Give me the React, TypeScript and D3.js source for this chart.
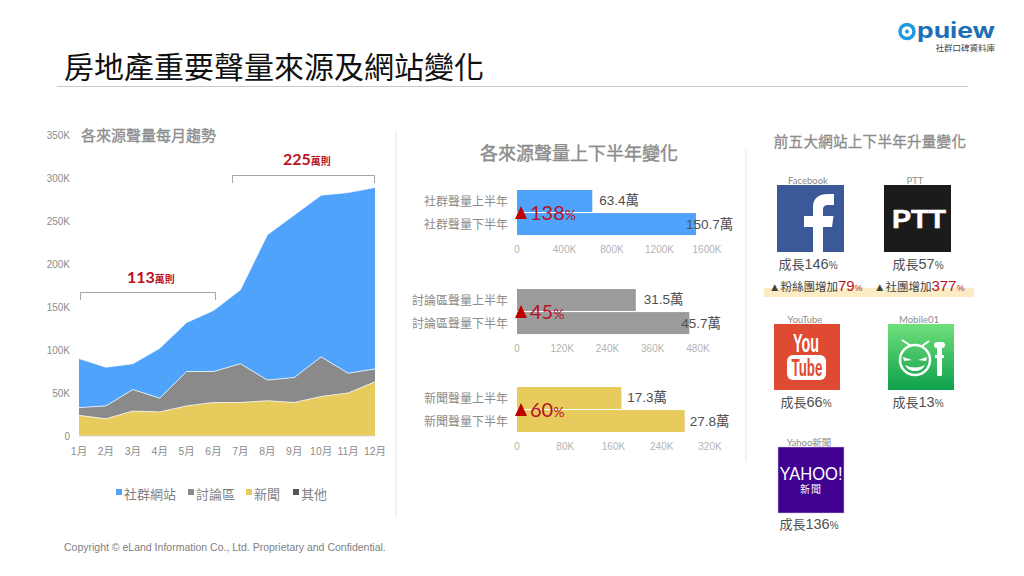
import * as d3 from 'd3';
import React from 'react';

const months = ['1月', '2月', '3月', '4月', '5月', '6月', '7月', '8月', '9月', '10月', '11月', '12月'];
const newsValues = [24, 20, 29, 28, 35, 39, 39, 41, 39, 46, 50, 63];
const forumValues = [9, 15, 25, 16, 40, 36, 45, 24, 29, 46, 23, 15];
const socialValues = [57, 45, 30, 58, 57, 71, 86, 169, 189, 188, 210, 211];
const otherValues = [0, 0, 0, 0, 0, 0, 0, 0, 0, 0, 0, 0];
const yTicks = [0, 50, 100, 150, 200, 250, 300, 350];

const legendItems = [
    { label: '社群網站', color: '#4fa3fb', x: 116 },
    { label: '討論區', color: '#8a8a8a', x: 188 },
    { label: '新聞', color: '#e8cb5d', x: 246 },
    { label: '其他', color: '#555555', x: 293 },
];

const SANS = '"Liberation Sans", Arial, sans-serif';
const CJK = '"Liberation Sans", "Noto Sans CJK TC", sans-serif';
const RED = '"Lato", "Noto Sans CJK TC", sans-serif';

const socialHalves = [634, 1507];
const forumHalves = [315, 457];
const newsHalves = [173, 278];

const barGroups = [
    { labels: ['社群聲量上半年', '社群聲量下半年'], values: socialHalves, texts: ['63.4萬', '150.7萬'], ticks: [0, 400, 800, 1200, 1600], color: '#4fa3fb', top: 190, growth: '138', textDx: [7, -10], },
    { labels: ['討論區聲量上半年', '討論區聲量下半年'], values: forumHalves, texts: ['31.5萬', '45.7萬'], ticks: [0, 120, 240, 360, 480], color: '#9b9b9b', top: 289, growth: '45', textDx: [8, -8] },
    { labels: ['新聞聲量上半年', '新聞聲量下半年'], values: newsHalves, texts: ['17.3萬', '27.8萬'], ticks: [0, 80, 160, 240, 320], color: '#e8cb5d', top: 387, growth: '60', textDx: [6, 5] },
];

const sites = [
    { name: 'Facebook', growth: '146', x: 777, y: 185 },
    { name: 'PTT', growth: '57', x: 884, y: 185 },
    { name: 'YouTube', growth: '66', x: 774, y: 324 },
    { name: 'Mobile01', growth: '13', x: 888, y: 324 },
    { name: 'Yahoo新聞', growth: '136', x: 778, y: 447 },
];

const AreaChart = () => {
    const x = d3.scalePoint<string>().domain(months).range([79, 375]);
    const y = d3.scaleLinear().domain([0, 350]).range([436, 135]);

    const rows = months.map((m, i) => ({ month: m, news: newsValues[i], forum: forumValues[i], social: socialValues[i], other: otherValues[i] }));
    const stack = d3.stack<any>().keys(['news', 'forum', 'social', 'other']);
    const layers = stack(rows);
    const colors = ['#e8cb5d', '#8a8a8a', '#4fa3fb', '#555555'];
    const area = d3.area<any>()
        .x(d => x(d.data.month)!)
        .y0(d => y(d[0]))
        .y1(d => y(d[1]));
    const topLine = d3.line<any>()
        .x(d => x(d.data.month)!)
        .y(d => y(d[1]));

    return <g>
        <text x={81} y={141} fontFamily={CJK} fontSize={15} fill="#8c8c8c" stroke="#8c8c8c" strokeWidth={0.3}>各來源聲量每月趨勢</text>
        {yTicks.map(t => (
            <text key={t} x={70} y={y(t) + 4} textAnchor="end" fontFamily={SANS} fontSize={10} fill="#8c8c8c">{t === 0 ? '0' : t + 'K'}</text>
        ))}
        {months.map(m => (
            <text key={m} x={x(m)} y={455} textAnchor="middle" fontFamily={CJK} fontSize={10.5} fill="#8c8c8c">{m}</text>
        ))}
        {layers.slice(0, 3).map((layer, i) => (
            <path key={i} d={area(layer)!} fill={colors[i]} />
        ))}
        {layers.slice(0, 3).map((layer, i) => (
            <path key={i} d={topLine(layer)!} fill="none" stroke="#ffffff" strokeOpacity={0.75} strokeWidth={1} />
        ))}
        <line x1={x('1月')} x2={x('12月')} y1={y(0)} y2={y(0)} stroke="#d9d9d9" />

        <path d="M80.5,300V292.5H215.5V300" fill="none" stroke="#a6a6a6" />
        <path d="M232.5,183V175.5H374.5V183" fill="none" stroke="#a6a6a6" />
        <text x={127} y={283} fontFamily={RED} fontSize={16} fontWeight="bold" fill="#b7121f">113<tspan fontSize={10} fontFamily={CJK}>萬則</tspan></text>
        <text x={283} y={165} fontFamily={RED} fontSize={16} fontWeight="bold" fill="#b7121f">225<tspan fontSize={10} fontFamily={CJK}>萬則</tspan></text>

        {legendItems.map(d => (
            <g key={d.label}>
                <rect x={d.x} y={489} width={6} height={6} fill={d.color} />
                <text x={d.x + 8} y={499} fontFamily={CJK} fontSize={13} fill="#7f7f7f">{d.label}</text>
            </g>
        ))}
    </g>;
};

const BarGroup = ({ group }: { group: typeof barGroups[number] }) => {
    const barH = 22;
    const maxTick = group.ticks[group.ticks.length - 1];
    const pxMax = maxTick === 1600 ? 707 : maxTick === 480 ? 698 : 710;
    const x = d3.scaleLinear().domain([0, maxTick]).range([517, pxMax]);
    const y = d3.scaleBand<number>().domain([0, 1]).range([group.top, group.top + 45]).paddingInner(0.05);
    return <g>
        {group.values.map((v, i) => (
            <g key={i}>
                <rect x={x(0)} y={y(i)} width={x(v) - x(0)} height={barH} fill={group.color} />
                <text x={508} y={y(i)! + barH / 2 + 4.5} textAnchor="end" fontFamily={CJK} fontSize={12} fill="#8c8c8c">{group.labels[i]}</text>
                <text x={x(v) + group.textDx[i]} y={y(i)! + barH / 2 + 4 + i} fontFamily={CJK} fontSize={13.5} fill="#505050">{group.texts[i]}</text>
            </g>
        ))}
        {group.ticks.map(t => (
            <text key={t} x={x(t)} y={group.top + 63} textAnchor="middle" fontFamily={SANS} fontSize={10} fill="#b3b3b3">{t === 0 ? '0' : t + 'K'}</text>
        ))}
        <path d={`M515,${group.top + 29}l6,-13l6,13z`} fill="#c00000" />
        <text x={530} y={group.top + 30} fontFamily={RED} fontSize={20} fill="#b7121f">{group.growth}<tspan fontSize={14}>%</tspan></text>
    </g>;
};

const SiteIcon = ({ name, x, y }: { name: string, x: number, y: number }) => {
    const s = 66;
    if (name === 'Facebook') {
        return <g transform={`translate(${x},${y})`}>
            <rect width={s + 1} height={s + 1} fill="#3b5998" />
            <path d="M36,67V42H27V31H36V22C36,13 42,9 51,9H57V20H52C48,20 46,21 46,25V31H56.5L55,42H46V67Z" fill="#ffffff" />
        </g>;
    }
    if (name === 'PTT') {
        return <g transform={`translate(${x},${y})`}>
            <rect width={s + 1} height={s + 1} fill="#1b1b1b" />
            <text x={35} y={43} textAnchor="middle" fontFamily='"Liberation Sans", sans-serif' fontSize={25} fontWeight="bold" fill="#ffffff" stroke="#ffffff" strokeWidth={0.5} textLength={54} lengthAdjust="spacingAndGlyphs">PTT</text>
        </g>;
    }
    if (name === 'YouTube') {
        return <g transform={`translate(${x},${y})`}>
            <rect width={s} height={s} fill="#df4a32" />
            <text x={32} y={28} textAnchor="middle" fontFamily='"Liberation Sans", sans-serif' fontSize={25} fontWeight="bold" fill="#ffffff" textLength={26} lengthAdjust="spacingAndGlyphs">You</text>
            <rect x={13} y={31} width={39} height={25} rx={6} fill="#ffffff" />
            <text x={33} y={52} textAnchor="middle" fontFamily='"Liberation Sans", sans-serif' fontSize={24} fontWeight="bold" fill="#df4a32" textLength={31} lengthAdjust="spacingAndGlyphs">Tube</text>
        </g>;
    }
    if (name === 'Mobile01') {
        return <g transform={`translate(${x},${y})`}>
            <defs>
                <linearGradient id="m01" x1="0" x2="0" y1="0" y2="1">
                    <stop offset="0" stopColor="#6fe07a" />
                    <stop offset="1" stopColor="#0fa04c" />
                </linearGradient>
            </defs>
            <rect width={s} height={s} fill="url(#m01)" />
            <circle cx={27} cy={36} r={15} fill="none" stroke="#ffffff" strokeWidth={2.5} />
            <path d="M14,16l9,6M41,17l-7,5" stroke="#ffffff" strokeWidth={2} fill="none" />
            <path d="M15,33l9,3l-8,1zM39,33l-9,3l8,1z" fill="#ffffff" />
            <path d="M17,41Q27,46 37,41Q34,47 27,47Q20,47 17,41Z" fill="#ffffff" />
            <rect x={49} y={18} width={5} height={34} rx={1.5} fill="#ffffff" />
            <rect x={46} y={18} width={11} height={6} rx={3} fill="#ffffff" />
            <rect x={47} y={31} width={9} height={3} fill="#ffffff" />
        </g>;
    }
    return <g transform={`translate(${x},${y})`}>
        <rect width={s} height={s} fill="#400090" stroke="#d8c4ee" strokeWidth={0.5} />
        <text x={33} y={32.5} textAnchor="middle" fontFamily='"Liberation Sans", sans-serif' fontSize={19} fill="#ffffff" textLength={63} lengthAdjust="spacingAndGlyphs">YAHOO!</text>
        <text x={33} y={46} textAnchor="middle" fontFamily='"Noto Sans CJK TC", sans-serif' fontSize={10} fill="#ffffff" letterSpacing={1}>新聞</text>
    </g>;
};

const growthText = (x: number, y: number, growth: string) => (
    <text x={x} y={y} textAnchor="middle" fontFamily={CJK} fontSize={13} fill="#505050">成長<tspan fontSize={14.5}>{growth}</tspan><tspan fontSize={10}>%</tspan></text>
);

export default function App() {
    return <svg width={1024} height={576} viewBox="0 0 1024 576" style={{ position: 'absolute', left: 0, top: 0, background: '#ffffff' }}>
        <text x={64} y={78} fontFamily='"Noto Sans CJK TC", sans-serif' fontSize={30} fill="#111111">房地產重要聲量來源及網站變化</text>
        <line x1={57} x2={968} y1={86.5} y2={86.5} stroke="#c8c8c8" />

        <circle cx={907} cy={31.5} r={7} fill="none" stroke="#1f9ae0" strokeWidth={3.5} />
        <circle cx={907} cy={31.5} r={2} fill="#1f9ae0" />
        <text x={917} y={38} fontFamily='"Inter", sans-serif' fontSize={21} fontWeight="bold" fill="#1f6fb5" textLength={78} lengthAdjust="spacingAndGlyphs">puiew</text>
        <text x={995} y={51} textAnchor="end" fontFamily='"Noto Sans CJK TC", sans-serif' fontSize={8.5} fill="#444444">社群口碑資料庫</text>

        <line x1={396} x2={396} y1={130} y2={516} stroke="#e3e3e3" />
        <line x1={746} x2={746} y1={150} y2={462} stroke="#e3e3e3" />

        <AreaChart />

        <text x={579} y={160} textAnchor="middle" fontFamily={CJK} fontSize={18} fill="#8c8c8c" stroke="#8c8c8c" strokeWidth={0.4}>各來源聲量上下半年變化</text>
        {barGroups.map(g => <BarGroup key={g.top} group={g} />)}

        <text x={870} y={147} textAnchor="middle" fontFamily={CJK} fontSize={14.5} fill="#8c8c8c" stroke="#8c8c8c" strokeWidth={0.3} letterSpacing={0.3}>前五大網站上下半年升量變化</text>
        <rect x={764} y={288} width={210} height={9} fill="#fcecc4" />
        {sites.map(s => (
            <g key={s.name}>
                <text x={s.x + 31} y={s.y - 1} textAnchor="middle" fontFamily='"Lato", "Noto Sans CJK TC", sans-serif' fontSize={9.5} fill="#8c8c8c">{s.name}</text>
                <SiteIcon name={s.name} x={s.x} y={s.y} />
            </g>
        ))}
        {growthText(808, 269, '146')}
        {growthText(918, 269, '57')}
        {growthText(806, 407, '66')}
        {growthText(918, 407, '13')}
        {growthText(809, 529, '136')}
        <text x={769} y={291} fontFamily={CJK} fontSize={11.5} fill="#404040">▲粉絲團增加<tspan fill="#b7121f" fontSize={15}>79</tspan><tspan fontSize={9} fill="#b7121f">%</tspan></text>
        <text x={874} y={291} fontFamily={CJK} fontSize={11.5} fill="#404040">▲社團增加<tspan fill="#b7121f" fontSize={15}>377</tspan><tspan fontSize={9} fill="#b7121f">%</tspan></text>

        <text x={64} y={551} fontFamily={SANS} fontSize={10.5} fill="#808080">Copyright © eLand Information Co., Ltd. Proprietary and Confidential.</text>
    </svg>;
}
